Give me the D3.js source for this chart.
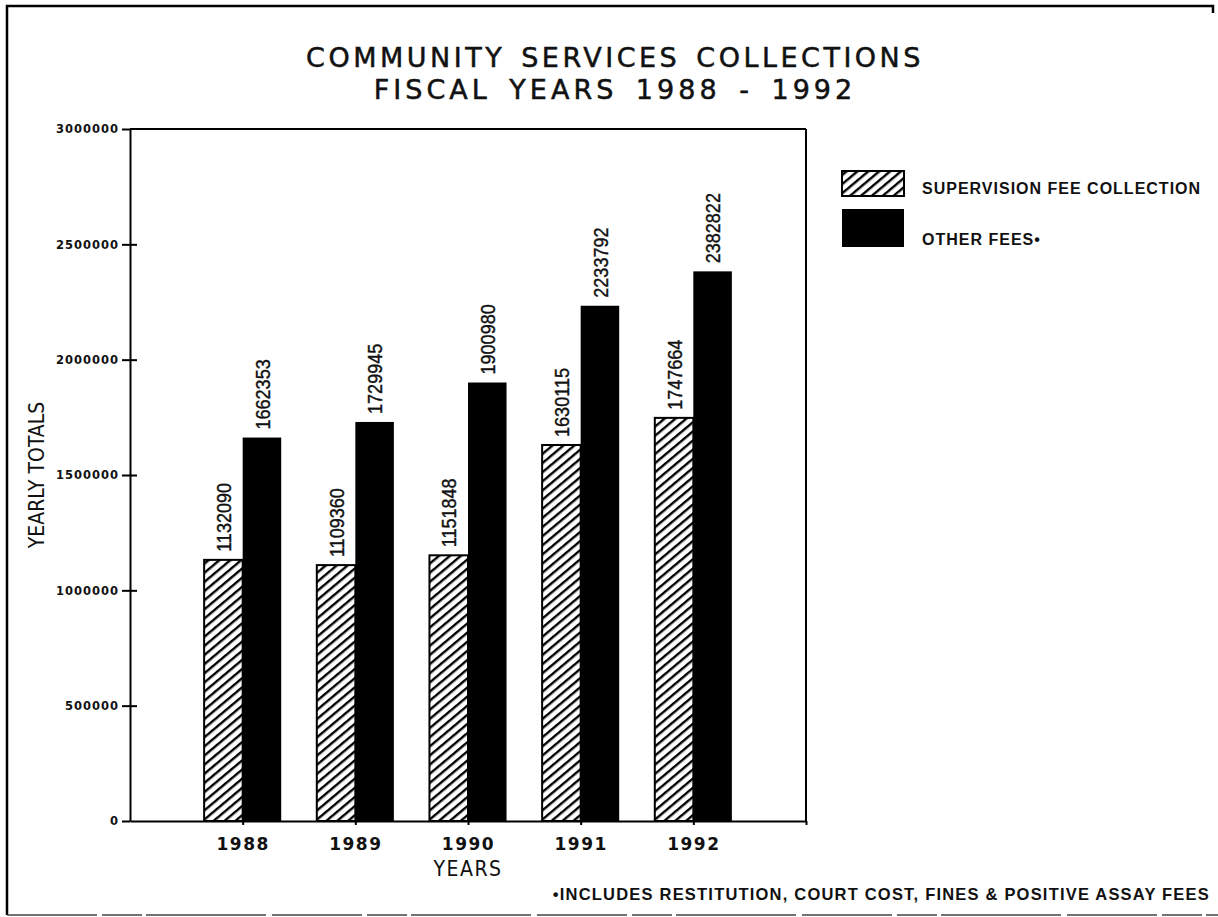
<!DOCTYPE html>
<html>
<head>
<meta charset="utf-8">
<script src="https://cdn.jsdelivr.net/npm/d3@7"></script>
<style>
  html, body { margin: 0; padding: 0; background: #fff; }
  svg { display: block; }
  .title { font-family: "DejaVu Sans", sans-serif; font-size: 27px; fill: #111; stroke: #111; stroke-width: 0.5px; }
  .narrow { font-family: "Liberation Sans Narrow", "DejaVu Sans Condensed", "Arial Narrow", sans-serif; fill: #111; }
  .val { font-family: "Liberation Sans", Arial, sans-serif; fill: #111; }
  .wide { font-family: "Liberation Sans", Arial, sans-serif; font-weight: bold; fill: #111; }
  .tick text { font-family: "DejaVu Sans", sans-serif; font-weight: bold; fill: #111; }
</style>
</head>
<body>
<svg id="chart" width="1218" height="917"></svg>
<script>
// Collections by fiscal year
const years = [1988, 1989, 1990, 1991, 1992];
const supervisionFees = [1132090, 1109360, 1151848, 1630115, 1747664];
const otherFees = [1662353, 1729945, 1900980, 2233792, 2382822];
const seriesNames = ["SUPERVISION FEE COLLECTION", "OTHER FEES\u2022"];
const yTickValues = [0, 500000, 1000000, 1500000, 2000000, 2500000, 3000000];
const titleLines = ["COMMUNITY SERVICES COLLECTIONS", "FISCAL YEARS 1988 - 1992"];
const footnote = "\u2022INCLUDES RESTITUTION, COURT COST, FINES & POSITIVE ASSAY FEES";

const svg = d3.select("#chart");

// hatch pattern for the supervision fee bars
const defs = svg.append("defs");
defs.append("pattern")
  .attr("id", "hatch")
  .attr("patternUnits", "userSpaceOnUse")
  .attr("width", 7).attr("height", 7)
  .attr("patternTransform", "rotate(50)")
  .append("rect")
  .attr("x", 0).attr("y", 0).attr("width", 2.4).attr("height", 7)
  .attr("fill", "#000");

// scales
const x = d3.scaleLinear().domain([1987, 1993]).range([130, 806]);
const y = d3.scaleLinear().domain([0, 3000000]).range([821, 129]);
const step = x(1989) - x(1988);
const sub = d3.scaleBand().domain([0, 1]).range([-0.342 * step, 0.342 * step]).padding(0);

// outer border
svg.append("path")
  .attr("d", "M1213,13 L1213,6 L7,6 L7,915")
  .attr("fill", "none").attr("stroke", "#000").attr("stroke-width", 2.5);
svg.append("line")
  .attr("x1", 7).attr("x2", 1218).attr("y1", 915).attr("y2", 915)
  .attr("stroke", "#444").attr("stroke-width", 1.5)
  .attr("stroke-dasharray", "90,5,40,4,120,6");

// title
svg.append("text").attr("class", "title")
  .attr("x", 615).attr("y", 67).attr("text-anchor", "middle")
  .attr("letter-spacing", 3.5).attr("word-spacing", 4)
  .text(titleLines[0]);
svg.append("text").attr("class", "title")
  .attr("x", 615).attr("y", 99).attr("text-anchor", "middle")
  .attr("letter-spacing", 4).attr("word-spacing", 6)
  .text(titleLines[1]);

// bars
const rows = years.map((yr, i) => ({ year: yr, values: [supervisionFees[i], otherFees[i]] }));
const groups = svg.append("g").selectAll("g").data(rows).join("g")
  .attr("transform", d => `translate(${x(d.year)},0)`);

groups.selectAll("rect").data(d => d.values).join("rect")
  .attr("x", (d, i) => sub(i))
  .attr("y", d => y(d))
  .attr("width", sub.bandwidth())
  .attr("height", d => y(0) - y(d))
  .attr("fill", (d, i) => i === 0 ? "url(#hatch)" : "#000")
  .attr("stroke", "#000")
  .attr("stroke-width", (d, i) => i === 0 ? 2 : 0);

// value labels, rotated above each bar (condensed along the reading direction)
groups.selectAll("text.val").data(d => d.values).join("text")
  .attr("class", "val")
  .attr("font-size", 21)
  .attr("transform", (d, i) => `translate(${sub(i) + sub.bandwidth() / 2},${y(d) - 8}) rotate(-90) scale(0.86,1)`)
  .attr("dy", "0.36em")
  .attr("stroke", "#111").attr("stroke-width", 0.4)
  .text(d => d);

// y axis
const yAxis = svg.append("g")
  .attr("transform", `translate(${x(1987)},0)`)
  .call(d3.axisLeft(y).tickValues(yTickValues).tickSize(8).tickSizeOuter(0).tickPadding(3)
    .tickFormat(d3.format("d")));
yAxis.select(".domain").attr("stroke-width", 2);
yAxis.selectAll(".tick line").attr("stroke-width", 2)
  .attr("x1", d => (d === 0 || d === 3000000) ? 0 : 7);
yAxis.selectAll(".tick text").attr("font-size", 11.5).attr("letter-spacing", 1);

// x axis
const xAxis = svg.append("g")
  .attr("transform", `translate(0,${y(0)})`)
  .call(d3.axisBottom(x).tickValues(years.concat([1993])).tickSize(4).tickSizeOuter(0).tickPadding(13)
    .tickFormat(d => years.includes(d) ? String(d) : ""));
xAxis.select(".domain").attr("stroke-width", 2);
xAxis.selectAll(".tick line").attr("stroke-width", 2);
xAxis.selectAll(".tick text").attr("font-size", 17).attr("letter-spacing", 1.5);

// frame: top and right edges
svg.append("line")
  .attr("x1", x(1987)).attr("x2", x(1993)).attr("y1", y(3000000)).attr("y2", y(3000000))
  .attr("stroke", "#000").attr("stroke-width", 2);
svg.append("line")
  .attr("x1", x(1993)).attr("x2", x(1993)).attr("y1", y(3000000)).attr("y2", y(0))
  .attr("stroke", "#000").attr("stroke-width", 2);

// axis titles
svg.append("text").attr("class", "narrow")
  .attr("font-size", 21)
  .attr("transform", `translate(44,${(y(0) + y(3000000)) / 2}) rotate(-90)`)
  .attr("text-anchor", "middle")
  .text("YEARLY TOTALS");
svg.append("text").attr("class", "narrow")
  .attr("font-size", 21).attr("letter-spacing", 1.5)
  .attr("x", x(1990)).attr("y", 876).attr("text-anchor", "middle")
  .text("YEARS");

// legend
const legend = svg.append("g").attr("transform", "translate(842,0)");
const legendItems = [
  { name: seriesNames[0], fill: "url(#hatch)", y0: 171, h: 25, ty: 194 },
  { name: seriesNames[1], fill: "#000", y0: 209, h: 38, ty: 245 }
];
legendItems.forEach((it, i) => {
  legend.append("rect")
    .attr("x", 0).attr("y", it.y0).attr("width", 62).attr("height", it.h)
    .attr("fill", it.fill).attr("stroke", "#000").attr("stroke-width", i === 0 ? 2 : 0);
  legend.append("text").attr("class", "wide")
    .attr("x", 80).attr("y", it.ty)
    .attr("font-size", 16).attr("letter-spacing", 1)
    .text(it.name);
});

// footnote
svg.append("text").attr("class", "wide")
  .attr("x", 1210).attr("y", 900).attr("text-anchor", "end")
  .attr("font-size", 16.5).attr("letter-spacing", 1.2)
  .text(footnote);
</script>
</body>
</html>
